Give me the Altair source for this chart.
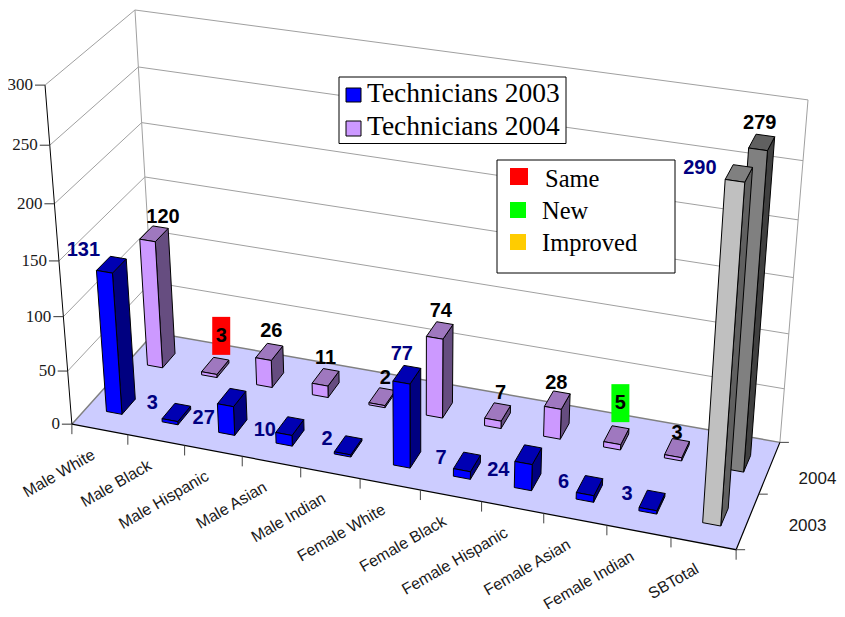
import altair as alt
import numpy as np
import pandas as pd

W, H = 829, 601

CATEGORIES = ["Male White", "Male Black", "Male Hispanic", "Male Asian", "Male Indian",
              "Female White", "Female Black", "Female Hispanic", "Female Asian",
              "Female Indian", "SBTotal"]
VALUES_2003 = [131, 3, 27, 10, 2, 77, 7, 24, 6, 3, 290]
VALUES_2004 = [120, 3, 26, 11, 2, 74, 7, 28, 5, 3, 279]
Y_TICKS = [0, 50, 100, 150, 200, 250, 300]
SERIES = ["Technicians 2003", "Technicians 2004"]
STATUS = ["Same", "New", "Improved"]
STATUS_COLORS = ["#FF0000", "#00FF00", "#FFCC00"]
HIGHLIGHT_2004 = {1: "#FF0000", 8: "#00FF00"}

# label offsets from the top of each bar
OFFS_2003 = [(-28, -15), (-24, -9), (-28, 21), (-25, 4), (-21, -6), (-5, -21),
             (-26, -4), (-30, 15), (-26, -4), (-25, -6), (-39, -5)]
OFFS_2004 = [(9, -17), (6, -30), (2, -21), (0, -19), (3, -19), (1, -19),
             (3, -19), (-1, -17), (4, -32), (0, -15), (-2, -19)]

# 3D box -> page pixels: a projective camera fitted to the visible box corners
CORNERS = [((0, 0, 0), (72, 424)), ((1, 0, 0), (736, 550)), ((1, 1, 0), (780, 442)),
           ((0, 1, 0), (154, 333)), ((0, 0, 1), (45, 85)), ((0, 1, 1), (135, 10)),
           ((1, 1, 1), (808, 100))]
rows, rhs = [], []
for (u, v, w), (px, py) in CORNERS:
    rows.append([u, v, w, 1, 0, 0, 0, 0, -px * u, -px * v, -px * w]); rhs.append(px)
    rows.append([0, 0, 0, 0, u, v, w, 1, -py * u, -py * v, -py * w]); rhs.append(py)
CAM = np.append(np.linalg.lstsq(np.array(rows, float), np.array(rhs, float), rcond=None)[0], 1).reshape(3, 4)


def proj(u, v, val=0):
    p = CAM @ np.array([u, v, val / 300, 1.0])
    return [float(p[0] / p[2]) - 8, float(p[1] / p[2]) - 8]


features = []


def shape(points, fill="none", stroke="none", sw=1, closed=True):
    if closed:
        geom = {"type": "Polygon", "coordinates": [points + [points[0]]]}
    else:
        geom = {"type": "LineString", "coordinates": points}
    features.append({"type": "Feature", "geometry": geom,
                     "properties": {"fill": fill, "stroke": stroke, "sw": sw}})


GRID = "#A0A0A0"
# floor
shape([proj(0, 0), proj(1, 0), proj(1, 1), proj(0, 1)], fill="#CCCCFF")
# walls grid
for t in Y_TICKS[1:]:
    shape([proj(0, 0, t), proj(0, 1, t), proj(1, 1, t)], stroke=GRID, closed=False)
shape([proj(0, 1, 0), proj(0, 1, 300)], stroke=GRID, closed=False)
shape([proj(1, 1, 0), proj(1, 1, 300)], stroke=GRID, closed=False)
shape([proj(0, 0, 0), proj(0, 1, 0), proj(1, 1, 0)], stroke="#808080", sw=1.5, closed=False)
shape([proj(0, 0, 0), proj(1, 0, 0), proj(1, 1, 0)], stroke="#000000", sw=1.2, closed=False)
shape([proj(0, 0, 0), proj(0, 0, 300)], stroke="#000000", closed=False)
# ticks
for t in Y_TICKS:
    a = proj(0, 0, t)
    shape([a, [a[0] - 10, a[1]]], stroke="#333333", closed=False)
for i in range(len(CATEGORIES) + 1):
    a = proj(i / 11, 0)
    shape([a, [a[0], a[1] + 10]], stroke="#444444", closed=False)
for v in (0, 0.5, 1):
    a = proj(1, v)
    shape([a, [a[0] + 9, a[1]]], stroke="#444444", closed=False)

BW, BD = 0.0255, 0.16
PAL = {2003: ("#0000FF", "#0000B3", "#000080"), 2004: ("#CC99FF", "#9F78BF", "#664D80")}
PAL_T = {2003: ("#C0C0C0", "#808080", "#606060"), 2004: ("#808080", "#606060", "#404040")}

labels = []
rects = []
for year, vals, vc, offs in [(2004, VALUES_2004, 0.75, OFFS_2004), (2003, VALUES_2003, 0.25, OFFS_2003)]:
    for i, val in enumerate(vals):
        uc = (i + 0.5) / 11
        u0, u1, v0, v1 = uc - BW / 2, uc + BW / 2, vc - BD / 2, vc + BD / 2
        front, top, side = (PAL_T if i == 10 else PAL)[year]
        shape([proj(u1, v0, 0), proj(u1, v1, 0), proj(u1, v1, val), proj(u1, v0, val)], fill=side, stroke="#000000")
        shape([proj(u0, v0, val), proj(u1, v0, val), proj(u1, v1, val), proj(u0, v1, val)], fill=top, stroke="#000000")
        shape([proj(u0, v0, 0), proj(u1, v0, 0), proj(u1, v0, val), proj(u0, v0, val)], fill=front, stroke="#000000")
        c = proj(uc, vc, val)
        lx, ly = c[0] + offs[i][0], c[1] + offs[i][1]
        labels.append({"x": lx, "y": ly, "t": str(val), "c": "#000080" if year == 2003 else "#000000"})
        if year == 2004 and i in HIGHLIGHT_2004:
            rects.append({"x": lx - 9, "x2": lx + 9, "y": ly - 19, "y2": ly + 19, "f": HIGHLIGHT_2004[i], "s": "none"})

shapes = alt.Chart(alt.InlineData(values={"type": "FeatureCollection", "features": features},
                                  format=alt.DataFormat(type="json", property="features"))).mark_geoshape().encode(
    fill=alt.Fill("properties.fill:N", scale=None),
    stroke=alt.Stroke("properties.stroke:N", scale=None),
    strokeWidth=alt.StrokeWidth("properties.sw:Q", scale=None),
).project(type="identity", scale=1, translate=[0, 0])

X = lambda f="x": alt.X(f + ":Q", scale=None, axis=None)
Y = lambda f="y": alt.Y(f + ":Q", scale=None, axis=None)

# legend boxes and swatches
rects += [
    {"x": 331, "x2": 558, "y": 69, "y2": 135.5, "f": "#FFFFFF", "s": "#000000"},
    {"x": 338, "x2": 353, "y": 80, "y2": 94, "f": "#0000FF", "s": "#000000"},
    {"x": 338, "x2": 353, "y": 113, "y2": 128, "f": "#CC99FF", "s": "#000000"},
    {"x": 489, "x2": 667, "y": 152, "y2": 265, "f": "#FFFFFF", "s": "#000000"},
    {"x": 502, "x2": 520, "y": 160, "y2": 177, "f": STATUS_COLORS[0], "s": "none"},
    {"x": 502, "x2": 518, "y": 194, "y2": 210, "f": STATUS_COLORS[1], "s": "none"},
    {"x": 502, "x2": 518, "y": 226, "y2": 242, "f": STATUS_COLORS[2], "s": "none"},
]
rect_layer = alt.Chart(pd.DataFrame(rects)).mark_rect().encode(
    x=X(), x2="x2:Q", y=Y(), y2="y2:Q",
    fill=alt.Fill("f:N", scale=None), stroke=alt.Stroke("s:N", scale=None))


def text_layer(df, **kw):
    ch = alt.Chart(pd.DataFrame(df)).mark_text(**kw)
    enc = dict(x=X(), y=Y(), text="t:N")
    if "c" in df[0]:
        enc["color"] = alt.Color("c:N", scale=None)
    return ch.encode(**enc)


value_labels = text_layer(labels, font="Liberation Sans", fontSize=20, fontWeight="bold", baseline="middle", align="center")
ytick_labels = text_layer(
    [{"x": proj(0, 0, t)[0] - 12, "y": proj(0, 0, t)[1], "t": str(t)} for t in Y_TICKS],
    font="Liberation Serif", fontSize=17, baseline="middle", align="right", color="#1a1a1a")
cat_labels = text_layer(
    [{"x": proj((i + 0.5) / 11, 0)[0] - 6, "y": proj((i + 0.5) / 11, 0)[1] + 24, "t": c} for i, c in enumerate(CATEGORIES)],
    font="Liberation Sans", fontSize=16, baseline="middle", align="right", angle=330, color="#1a1a1a")
depth_labels = text_layer(
    [{"x": proj(1, 0.25)[0] + 41, "y": proj(1, 0.25)[1] + 5, "t": "2003"},
     {"x": proj(1, 0.75)[0] + 29, "y": proj(1, 0.75)[1] + 11, "t": "2004"}],
    font="Liberation Sans", fontSize=17, baseline="middle", align="left", color="#1a1a1a")
legend1 = text_layer(
    [{"x": 359, "y": 86, "t": SERIES[0]}, {"x": 359, "y": 119, "t": SERIES[1]}],
    font="Liberation Serif", fontSize=27.5, baseline="middle", align="left", color="#000000")
legend2 = text_layer(
    [{"x": 537, "y": 172, "t": STATUS[0]}, {"x": 534, "y": 204, "t": STATUS[1]}, {"x": 534, "y": 236, "t": STATUS[2]}],
    font="Liberation Serif", fontSize=24.5, baseline="middle", align="left", color="#000000")

chart = alt.layer(shapes, rect_layer, value_labels, ytick_labels, cat_labels, depth_labels, legend1, legend2).properties(
    width=W, height=H, autosize=alt.AutoSizeParams(type="none"), padding=0
).configure_view(stroke=None)

chart.save("out.html", embed_options={"renderer": "svg", "actions": False})
